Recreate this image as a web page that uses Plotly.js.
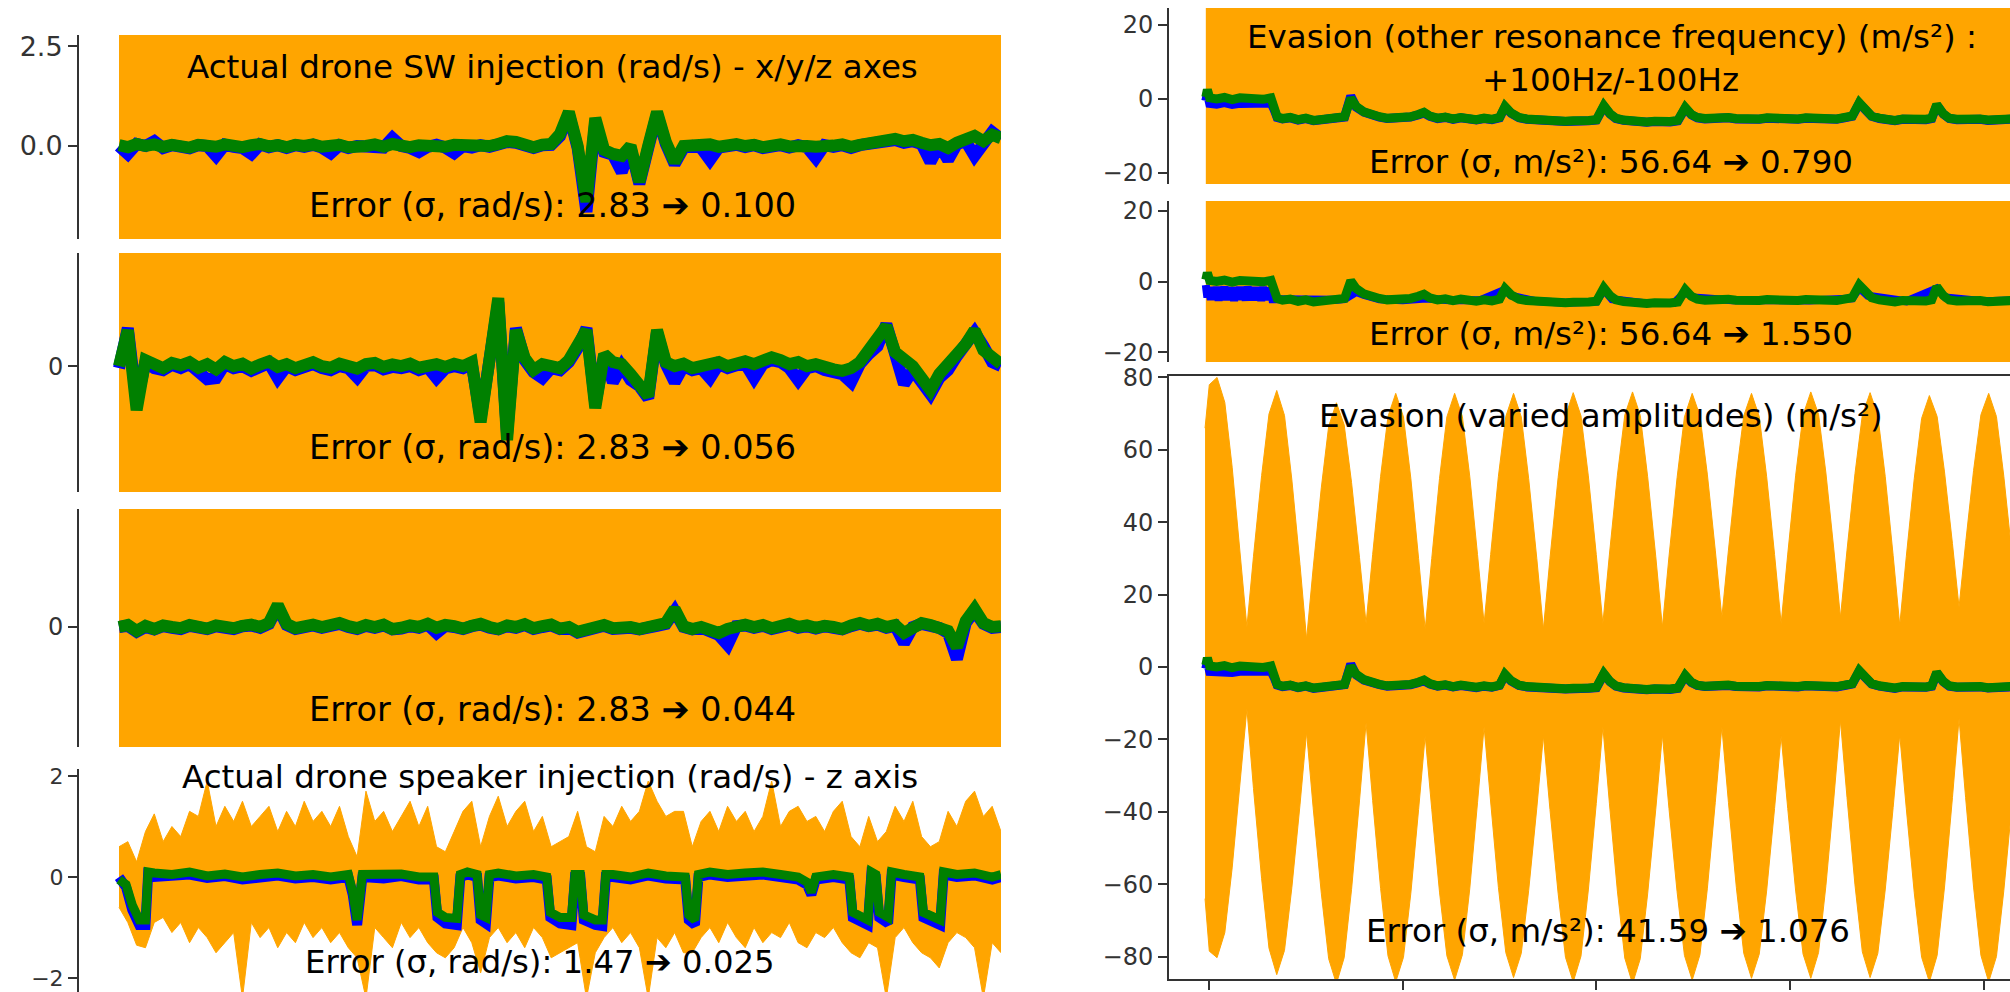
<!DOCTYPE html>
<html><head><meta charset="utf-8">
<script src="https://cdn.plot.ly/plotly-3.0.1.min.js"></script>
<style>html,body{margin:0;padding:0;background:#fff}#chart{width:2010px;height:992px}</style>
</head><body><div id="chart"></div>
<script>
// ---------- DATA ----------
// left column: sample index 0..100 (percent of the recording)
const swIndex = Array.from({length: 101}, (_, i) => i);

const swXGreen = [0.02,-0.03,0.05,0.00,0.04,-0.02,0.03,0.00,-0.04,0.03,
  0.01,-0.02,0.04,0.00,-0.03,0.02,0.05,-0.01,0.02,-0.03,
  0.03,0.00,0.04,-0.02,0.01,0.03,-0.03,0.02,0.00,0.04,
  -0.02,0.05,0.01,-0.03,0.02,0.00,0.04,-0.02,0.03,0.01,
  -0.02,0.03,0.00,0.05,0.12,0.10,0.02,-0.03,0.03,0.05,
  0.30,0.85,0.00,-1.40,0.70,-0.10,-0.20,-0.25,0.00,-0.90,
  0.00,0.85,0.10,-0.40,0.00,0.03,0.00,0.04,-0.02,0.02,
  0.05,0.00,0.03,-0.03,0.02,0.04,-0.01,0.03,0.00,-0.02,
  0.03,0.01,0.04,-0.02,0.03,0.06,0.10,0.14,0.18,0.12,
  0.15,0.08,0.02,0.05,-0.05,0.08,0.15,0.25,0.12,0.28,
  0.20];
const swXBlue = [0.0,-0.20,0.05,0.0,0.12,-0.05,0.02,0.0,-0.06,0.02,
  0.0,-0.25,0.03,-0.02,-0.05,-0.20,0.04,-0.03,0.02,-0.05,
  0.02,-0.02,0.03,-0.04,-0.18,0.02,-0.05,0.0,-0.02,0.03,
  -0.04,0.20,0.0,-0.05,-0.15,-0.02,0.03,-0.04,-0.18,0.0,
  -0.04,0.02,-0.02,0.04,0.10,0.08,0.0,-0.05,0.02,0.03,
  0.25,0.80,-0.05,-1.65,0.60,-0.15,-0.22,-0.65,-0.05,-0.95,
  -0.05,0.80,0.05,-0.45,-0.05,0.0,-0.05,-0.35,-0.04,0.0,
  0.03,-0.03,0.02,-0.05,0.0,0.02,-0.04,0.02,-0.03,-0.30,
  0.02,-0.02,0.02,-0.05,0.02,0.04,0.08,0.12,0.15,0.08,
  0.12,0.05,-0.40,0.03,-0.35,0.05,0.12,-0.25,0.10,0.35,
  0.18];

const swYGreen = [0.0,0.9,-1.1,0.15,0.05,-0.05,0.08,0.02,0.1,-0.04,
  0.05,-0.08,0.1,0.0,0.06,-0.06,0.04,0.12,-0.02,0.05,
  -0.05,0.04,0.1,0.0,-0.04,0.06,0.02,-0.06,0.05,0.08,
  -0.02,0.04,0.0,0.06,-0.04,0.03,0.05,-0.02,0.06,0.0,
  0.1,-1.4,0.4,1.7,-1.85,0.9,0.2,-0.1,0.05,0.0,
  -0.05,0.15,0.5,0.9,-1.05,0.3,0.1,0.05,-0.2,-0.45,
  -0.75,0.9,0.1,0.0,0.06,-0.05,0.02,0.05,0.1,0.0,
  0.08,0.12,0.05,0.1,0.22,0.15,0.05,0.1,0.0,0.05,
  -0.05,-0.08,-0.12,-0.05,0.1,0.4,0.6,1.0,0.35,0.2,
  0.0,-0.3,-0.6,-0.2,0.0,0.3,0.55,0.9,0.4,0.2,
  0.05];
const swYBlue = [-0.05,0.95,-0.9,0.1,-0.05,-0.1,0.03,-0.05,0.05,-0.1,
  -0.33,-0.3,0.05,-0.05,0.0,-0.12,-0.02,0.08,-0.3,0.0,
  -0.1,-0.02,0.05,-0.05,-0.1,0.0,-0.05,-0.28,0.0,0.03,
  -0.08,-0.02,-0.05,0.0,-0.1,-0.03,-0.3,-0.06,0.0,-0.05,
  0.05,-1.3,0.3,1.6,-1.7,0.95,0.15,-0.15,-0.3,-0.05,
  -0.1,0.1,0.45,0.95,-0.95,0.25,-0.4,0.0,-0.35,-0.5,
  -0.8,0.85,0.05,-0.4,0.0,-0.1,-0.05,-0.3,0.05,-0.05,
  0.02,0.06,-0.3,0.05,0.15,0.1,-0.05,-0.35,-0.05,0.0,
  -0.1,-0.15,-0.2,-0.4,0.05,0.3,0.5,1.05,0.3,-0.45,
  -0.1,-0.35,-0.7,-0.3,-0.1,0.25,0.5,0.85,0.5,0.1,
  0.0];

const swZGreen = [0.0,0.05,-0.1,0.03,-0.05,0.04,0.0,-0.03,0.05,0.0,
  -0.04,0.04,0.02,-0.03,0.03,0.06,0.0,0.1,0.55,0.08,
  -0.03,0.03,0.06,0.0,0.05,0.1,0.02,-0.03,0.05,0.0,
  0.06,-0.05,-0.02,0.04,0.0,0.08,-0.02,0.05,0.02,-0.04,
  0.03,0.08,0.0,-0.05,0.04,0.0,0.07,-0.03,0.02,0.06,
  -0.04,0.0,-0.12,-0.08,0.02,0.05,-0.03,0.02,0.0,-0.05,
  0.03,0.05,0.1,0.45,0.02,-0.05,0.0,-0.08,-0.15,-0.05,
  0.03,0.06,0.0,0.05,-0.03,0.02,0.08,0.0,0.04,-0.02,
  0.03,0.0,-0.05,0.04,0.1,0.03,0.08,0.0,0.05,-0.15,
  0.02,0.1,0.05,0.0,-0.1,-0.5,0.15,0.45,0.1,0.0,
  0.02];
const swZBlue = [0.0,0.03,-0.12,0.0,-0.06,0.02,-0.02,-0.05,0.03,-0.02,
  -0.05,0.02,0.0,-0.05,0.02,0.04,-0.02,0.08,0.5,0.05,
  -0.05,0.02,0.04,-0.02,0.03,0.08,0.0,-0.05,0.03,-0.02,
  0.04,-0.06,-0.04,0.02,-0.02,0.06,-0.15,0.03,0.0,-0.05,
  0.02,0.06,-0.02,-0.06,0.02,-0.02,0.05,-0.05,0.0,0.04,
  -0.05,-0.02,-0.14,-0.1,0.0,0.03,-0.05,0.0,-0.02,-0.06,
  0.02,0.03,0.08,0.4,0.0,-0.06,-0.02,-0.1,-0.2,-0.45,
  0.02,0.04,-0.02,0.03,-0.05,0.0,0.06,-0.02,0.02,-0.04,
  0.02,-0.02,-0.06,0.02,0.08,0.02,0.06,-0.02,0.03,-0.4,
  0.0,0.08,0.03,-0.02,-0.15,-0.8,0.1,0.4,0.08,-0.02,
  0.0];

// speaker injection: raw signal envelope (orange) on swIndex
const spkRawUpper = [0.6,0.7,0.3,0.9,1.25,0.7,1.0,0.8,1.3,1.2,
  1.9,1.0,1.4,1.1,1.5,1.0,1.2,1.4,0.9,1.3,
  1.0,1.5,1.1,1.3,1.0,1.4,0.8,0.4,1.7,1.1,
  1.3,0.9,1.2,1.5,1.0,1.4,0.6,0.5,0.9,1.3,
  1.5,0.6,1.2,1.6,1.0,1.3,1.5,0.9,1.2,0.6,
  0.7,0.8,1.3,0.6,0.5,1.2,1.0,1.4,1.1,1.3,
  1.9,1.5,1.2,1.3,1.3,0.6,1.1,1.3,0.9,1.4,
  1.1,1.3,0.9,1.2,1.9,1.0,1.3,1.4,1.1,1.2,
  0.9,1.3,1.5,0.8,0.6,1.2,0.7,0.9,1.4,1.1,
  1.5,0.8,0.6,0.7,1.3,1.0,1.5,1.7,1.2,1.4,
  0.9];
const spkRawLower = [-0.6,-0.9,-1.35,-1.4,-0.9,-0.8,-1.1,-0.9,-1.3,-1.0,
  -1.2,-1.5,-1.3,-1.1,-2.4,-0.9,-1.2,-1.0,-1.4,-1.1,
  -1.3,-0.9,-1.2,-1.0,-1.3,-1.1,-1.4,-1.6,-2.4,-1.0,
  -1.2,-1.4,-0.9,-1.2,-1.0,-1.3,-1.5,-1.6,-1.4,-1.0,
  -1.3,-1.9,-1.2,-1.0,-1.3,-1.1,-1.4,-1.0,-1.2,-1.6,
  -1.5,-1.4,-1.3,-2.4,-1.5,-1.2,-1.0,-1.3,-1.1,-1.4,
  -2.4,-1.2,-1.4,-1.1,-1.5,-1.5,-1.2,-1.0,-1.3,-0.9,
  -1.2,-1.4,-1.0,-1.3,-1.1,-1.2,-0.9,-1.3,-1.4,-1.1,
  -1.2,-1.0,-1.3,-1.5,-1.6,-1.3,-1.4,-2.4,-1.2,-1.0,
  -1.3,-1.5,-1.6,-1.8,-1.3,-1.1,-1.2,-1.4,-2.4,-1.3,
  -1.5];
const spkX = [0,0.8,1.5,2.3,3.0,3.3,4,6,8,10,
  12,14,16,18,20,22,24,26,26.5,27.0,
  27.6,28.5,30,32,34,35.7,36.1,37,38.3,38.7,
  39.5,40.6,41.0,41.6,42.0,43,45,47,48.5,48.9,
  50,51.3,51.7,52.3,52.7,54,54.8,55.2,56,58,
  60,62,64.2,64.6,65.3,65.7,67,69,71,73,
  75,77,78,78.5,79,81,82.8,83.2,84.9,85.3,
  85.8,86.2,87.2,87.6,89,90.8,91.2,93.1,93.5,95,
  97,99,100];
const spkGreen = [-0.05,-0.15,-0.55,-0.85,-0.85,0.1,0.08,0.05,0.1,0.02,
  0.06,0.0,0.05,0.08,0.02,0.05,0.0,0.05,-0.3,-0.85,
  0.05,0.05,0.02,0.06,0.0,0.0,-0.7,-0.8,-0.82,0.05,
  0.1,0.05,-0.75,-0.8,0.05,0.08,0.02,0.05,0.0,-0.7,
  -0.8,-0.8,0.05,0.05,-0.75,-0.85,-0.85,0.05,0.05,0.0,
  0.08,0.02,0.0,-0.75,-0.85,0.05,0.1,0.05,0.08,0.1,
  0.05,0.0,-0.1,-0.3,0.0,0.05,0.0,-0.7,-0.85,0.1,
  0.05,-0.7,-0.8,0.1,0.05,0.0,-0.7,-0.85,0.1,0.05,
  0.08,0.0,0.05];
const spkBlue = [0.0,-0.2,-0.65,-0.95,-0.95,0.05,0.0,0.02,0.05,-0.02,
  0.02,-0.05,0.0,0.03,-0.03,0.0,-0.05,0.0,-0.35,-0.95,
  0.0,-0.02,-0.03,0.02,-0.05,-0.05,-0.8,-0.92,-0.95,0.0,
  0.05,0.0,-0.85,-0.92,0.0,0.03,-0.03,0.0,-0.05,-0.8,
  -0.92,-0.95,0.0,0.0,-0.85,-0.95,-0.97,0.0,0.0,-0.05,
  0.03,-0.03,-0.05,-0.85,-0.95,0.0,0.05,0.0,0.03,0.05,
  0.0,-0.05,-0.15,-0.35,-0.05,0.0,-0.05,-0.8,-0.95,0.05,
  0.0,-0.8,-0.92,0.05,0.0,-0.05,-0.8,-0.95,0.05,0.0,
  0.03,-0.05,0.0];

// right column: evasion experiments (m/s^2)
const evX = [-0.8,-0.4,0.2,2,4,6,8,10,12,14,
  16,16.8,17.6,19,21,23,25,27,29,31,
  33,35,36.6,38,40,42,44,46,48,50,
  52,54,55.5,57,59,61,63,65,67,69,
  71,73,75,76.4,78,80,82,84,86,88,
  90,92,94,96,98,100,101.9,103.5,105,107,
  109,111,113,115,117,119,121,122.9,124.5,126,
  128,130,132,134,136,138,140,142,144,146,
  148,150,152,154,156,158,160,162,164,166,
  167.8,169.5,171,173,175,177,179,181,183,185,
  186.5,187.8,189.5,191,193,195,197,199,201,203,
  205,207];
const evGreen = [0.5,2.5,0.3,0.0,0.4,-0.2,0.3,0.0,0.2,-0.1,
  0.3,-2.5,-4.8,-5.3,-5.0,-5.6,-5.2,-5.8,-5.4,-5.6,
  -5.2,-4.8,0.2,-2.0,-3.5,-4.3,-4.8,-5.2,-5.0,-5.4,
  -4.8,-4.2,-3.6,-4.6,-5.2,-4.9,-5.4,-5.0,-5.3,-5.6,
  -5.2,-5.5,-5.0,-2.0,-3.8,-5.0,-5.4,-5.6,-5.3,-5.8,
  -5.6,-6.0,-5.9,-6.1,-5.8,-5.6,-1.8,-4.0,-5.2,-5.7,
  -6.0,-5.8,-6.2,-6.0,-6.3,-6.1,-5.8,-2.3,-4.2,-5.0,
  -5.3,-5.1,-5.4,-5.0,-5.3,-5.5,-5.2,-5.4,-5.1,-5.3,
  -5.5,-5.2,-5.4,-5.1,-5.3,-5.6,-5.2,-5.4,-5.0,-4.6,
  -1.0,-3.2,-4.6,-5.2,-5.5,-5.8,-5.4,-5.6,-5.8,-5.5,
  -5.2,-1.5,-4.0,-5.2,-5.5,-5.3,-5.6,-5.4,-5.7,-5.5,
  -5.6,-5.4];
const evBlueA = [-0.5,1.5,-1.2,-1.4,-1.0,-1.5,-1.2,-1.3,-1.0,-1.4,
  -1.1,-2.8,-5.0,-5.4,-5.1,-5.7,-5.3,-5.9,-5.5,-5.7,
  -5.3,-4.9,0.8,-2.2,-3.6,-4.4,-4.9,-5.3,-5.1,-5.5,
  -4.9,-4.3,-3.8,-4.7,-5.3,-5.0,-5.5,-5.1,-5.4,-5.7,
  -5.3,-5.6,-5.1,-2.2,-3.9,-5.1,-5.5,-5.7,-5.4,-5.9,
  -5.7,-6.1,-6.0,-6.2,-5.9,-5.7,-2.0,-4.1,-5.3,-5.8,
  -6.1,-5.9,-6.3,-6.1,-6.4,-6.2,-5.9,-2.5,-4.3,-5.1,
  -5.4,-5.2,-5.5,-5.1,-5.4,-5.6,-5.3,-5.5,-5.2,-5.4,
  -5.6,-5.3,-5.5,-5.2,-5.4,-5.7,-5.3,-5.5,-5.1,-4.7,
  -1.2,-3.3,-4.7,-5.3,-5.6,-5.9,-5.5,-5.7,-5.9,-5.6,
  -5.3,-1.7,-4.1,-5.3,-5.6,-5.4,-5.7,-5.5,-5.8,-5.6,
  -5.7,-5.5];
const evBlueBX = [-0.8,-0.4,0.0,0.5,1.0,1.5,2.0,2.5,3.0,3.5,
  4.0,4.5,5.0,5.5,6.0,6.5,7.0,7.5,8.0,8.5,
  9.0,9.5,10.0,10.5,11.0,11.5,12.0,12.5,13.0,13.5,
  14.0,14.5,15.0,15.5,16.0,16.4,17.6,21,25,29,
  33,35,36.6,38,40,44,50,56,62,70,
  76.4,78,84,92,100,101.9,104,112,120,122.9,
  125,135,145,155,166,167.8,170,180,187.8,190,
  200,207];
const evBlueB = [-1.0,-4.5,-1.6,-5.2,-1.8,-5.0,-1.5,-5.4,-2.2,-4.8,
  -1.4,-5.3,-1.9,-5.0,-1.6,-5.5,-2.0,-4.9,-1.5,-5.2,
  -1.8,-5.4,-1.4,-5.0,-2.1,-5.3,-1.6,-4.9,-1.8,-5.5,
  -1.5,-5.1,-2.0,-5.3,-1.7,-5.0,-5.0,-5.1,-5.3,-5.5,
  -5.2,-5.0,-3.8,-3.0,-3.8,-5.0,-5.3,-4.8,-5.3,-5.3,
  -2.3,-4.0,-5.5,-6.0,-5.7,-2.3,-5.0,-6.1,-6.1,-3.0,
  -4.5,-5.3,-5.3,-5.4,-4.8,-1.8,-4.0,-5.6,-2.0,-4.5,
  -5.6,-5.4];

// varied-amplitude raw signal envelope (one row per lobe)
const ampEnvX = [-1.0,0.1,2.1,4.1,6.0,8.1,9.8,
  11.5,13.6,15.5,17.5,19.5,21.4,23.5,25.2,
  26.9,29.0,30.9,32.9,34.9,36.8,38.85,40.55,
  42.25,44.3,46.2,48.2,50.2,52.1,54.1,55.8,
  57.5,59.5,61.4,63.4,65.4,67.3,69.3,71.0,
  72.7,74.7,76.6,78.6,80.6,82.5,84.6,86.3,
  88.0,90.1,92.0,94.0,96.0,97.9,99.95,101.65,
  103.35,105.4,107.3,109.3,111.3,113.2,115.3,117.0,
  118.7,120.8,122.7,124.7,126.7,128.6,130.65,132.35,
  134.05,136.1,138.0,140.0,142.0,143.9,145.95,147.65,
  149.35,151.4,153.3,155.3,157.3,159.2,161.25,162.95,
  164.65,166.7,168.6,170.6,172.6,174.5,176.55,178.25,
  179.95,182.0,183.9,185.9,187.9,189.8,191.85,193.55,
  195.25,197.3,199.2,201.2,203.2,205.1,207.2];
const ampEnvUpper = [66,78,80,73.1,55.2,31.7,11,
  30.6,52.9,69.9,76.4,69.5,51.7,28.3,7.7,
  27.3,49.5,66.5,73,66.9,51,30.3,12,
  31.1,52.7,69.2,75.6,69.1,52.1,30,10.4,
  30,52.1,69.1,75.6,69.2,52.7,31.1,12,
  31.1,52.7,69.2,75.6,69.1,52.1,30,10.4,
  30,52.3,69.3,75.8,69.4,52.8,31.1,12,
  31.2,53,69.6,76,69.5,52.6,30.5,11,
  30.4,52.3,69.1,75.6,69.4,53.3,32.3,13.7,
  32.3,53.3,69.4,75.6,69.2,52.7,31.1,12,
  31.2,53,69.6,76,69.8,53.6,32.4,13.7,
  32.3,53.4,69.6,75.8,69.4,52.7,30.8,11.5,
  30.6,52.1,68.7,75,69.2,53.9,34.1,16.5,
  34.2,54.3,69.7,75.6,69.2,52.7,31.1];
const ampEnvLower = [-64,-78.5,-80.3,-73.4,-55.5,-32.1,-11.5,
  -33.6,-58.5,-77.7,-85,-78.3,-60.9,-38.1,-18,
  -38.9,-62.5,-80.6,-87.5,-80.3,-61.5,-37,-15.4,
  -36.9,-61.2,-79.8,-87,-80.2,-62.5,-39.4,-19,
  -39.3,-62.2,-79.8,-86.5,-79.5,-61.3,-37.5,-16.5,
  -37.3,-60.9,-78.9,-85.8,-79.1,-61.8,-39,-19,
  -39.4,-62.5,-80.2,-87,-79.9,-61.6,-37.7,-16.5,
  -37.8,-61.9,-80.4,-87.5,-80.6,-62.7,-39.3,-18.7,
  -39,-62.1,-79.7,-86.5,-79.5,-61.3,-37.5,-16.5,
  -37.4,-61,-79.1,-86,-79.3,-61.9,-39.1,-19,
  -39.1,-61.9,-79.3,-86,-78.9,-60.4,-36.2,-14.8,
  -36.1,-60.2,-78.7,-85.8,-79.1,-61.6,-38.8,-18.7,
  -39.2,-62.4,-80.2,-87,-79.7,-60.8,-36.1,-14.3,
  -36.1,-60.8,-79.7,-87,-80,-61.8,-38];

// tick labels
const tickSW1Vals = [0, 2.5], tickSW1Text = ['0.0', '2.5'];
const tickZeroVals = [0], tickZeroText = ['0'];
const tickSpkVals = [-2, 0, 2], tickSpkText = ['\u22122', '0', '2'];
const tickEv20Vals = [-20, 0, 20], tickEv20Text = ['\u221220', '0', '20'];
const tickAmpVals = [-80, -60, -40, -20, 0, 20, 40, 60, 80];
const tickAmpText = ['\u221280', '\u221260', '\u221240', '\u221220', '0', '20', '40', '60', '80'];
const tickTimeVals = [0, 50, 100, 150, 200];

// texts
const panelTitles = ['Actual drone SW injection (rad/s) - x/y/z axes',
  'Actual drone speaker injection (rad/s) - z axis',
  'Evasion (other resonance frequency) (m/s\u00B2) :',
  '+100Hz/-100Hz',
  'Evasion (varied amplitudes) (m/s\u00B2)'];
const errorTexts = ['Error (\u03C3, rad/s): 2.83 \u2794 0.100',
  'Error (\u03C3, rad/s): 2.83 \u2794 0.056',
  'Error (\u03C3, rad/s): 2.83 \u2794 0.044',
  'Error (\u03C3, rad/s): 1.47 \u2794 0.025',
  'Error (\u03C3, m/s\u00B2): 56.64 \u2794 0.790',
  'Error (\u03C3, m/s\u00B2): 56.64 \u2794 1.550',
  'Error (\u03C3, m/s\u00B2): 41.59 \u2794 1.076'];

// ---------- STYLE ----------
const ORANGE = '#FFA500', BLUE = '#0000FF', GREEN = '#008000';
const AX = '#333333';
const tickFont = {family: 'DejaVu Sans', size: 24, color: '#333333'};
const tickFontBig = {family: 'DejaVu Sans', size: 27, color: '#333333'};
const tickFontSmall = {family: 'DejaVu Sans', size: 22, color: '#333333'};
const titleFont = {family: 'DejaVu Sans', size: 32.5, color: '#000000'};
const errLFont = {family: 'DejaVu Sans', size: 33.5, color: '#000000'};
const errSFont = {family: 'DejaVu Sans', size: 32.3, color: '#000000'};
const errRFont = {family: 'DejaVu Sans', size: 32.5, color: '#000000'};

function ln(x, y, xa, ya, color, width) {
  return {x: x, y: y, xaxis: xa, yaxis: ya, type: 'scatter', mode: 'lines',
    line: {color: color, width: width}, hoverinfo: 'skip'};
}
function band(x, lo, hi, xa, ya) {
  return [
    {x: x, y: lo, xaxis: xa, yaxis: ya, type: 'scatter', mode: 'lines',
      line: {color: ORANGE, width: 1}, hoverinfo: 'skip'},
    {x: x, y: hi, xaxis: xa, yaxis: ya, type: 'scatter', mode: 'lines',
      line: {color: ORANGE, width: 1}, fill: 'tonexty', fillcolor: ORANGE, hoverinfo: 'skip'}
  ];
}

const traces = [
  ln(swIndex, swXBlue, 'x', 'y', BLUE, 12), ln(swIndex, swXGreen, 'x', 'y', GREEN, 12),
  ln(swIndex, swYBlue, 'x2', 'y2', BLUE, 12), ln(swIndex, swYGreen, 'x2', 'y2', GREEN, 12),
  ln(swIndex, swZBlue, 'x3', 'y3', BLUE, 12), ln(swIndex, swZGreen, 'x3', 'y3', GREEN, 12),
  ...band(swIndex, spkRawLower, spkRawUpper, 'x4', 'y4'),
  ln(spkX, spkBlue, 'x4', 'y4', BLUE, 10), ln(spkX, spkGreen, 'x4', 'y4', GREEN, 9),
  ln(evX, evBlueA, 'x5', 'y5', BLUE, 9), ln(evX, evGreen, 'x5', 'y5', GREEN, 9),
  ln(evBlueBX, evBlueB, 'x6', 'y6', BLUE, 8), ln(evX, evGreen, 'x6', 'y6', GREEN, 9),
  ...band(ampEnvX, ampEnvLower, ampEnvUpper, 'x7', 'y7'),
  ln(evX, evBlueA, 'x7', 'y7', BLUE, 9), ln(evX, evGreen, 'x7', 'y7', GREEN, 9)
];

const leftDom = [79 / 2010, 1001 / 2010];
const rightDom = [1169 / 2010, 1];
function hx(anchor, dom, range) {
  return {domain: dom, range: range, anchor: anchor, visible: false, fixedrange: true};
}
function vy(anchor, dom, range, tv, tt, font) {
  return {domain: dom, range: range, anchor: anchor, showline: true, linecolor: AX, linewidth: 2,
    ticks: 'outside', ticklen: 9, tickwidth: 2, tickcolor: AX, tickvals: tv, ticktext: tt,
    tickfont: font || tickFont, showgrid: false, zeroline: false, fixedrange: true,
    ticklabeloverflow: 'allow'};
}
function py(px) { return 1 - px / 992; }

const layout = {
  width: 2010, height: 992, margin: {l: 0, r: 0, t: 0, b: 0},
  paper_bgcolor: '#ffffff', plot_bgcolor: '#ffffff', showlegend: false,
  xaxis: hx('y', leftDom, [-4.535, 100]),
  xaxis2: hx('y2', leftDom, [-4.535, 100]),
  xaxis3: hx('y3', leftDom, [-4.535, 100]),
  xaxis4: hx('y4', leftDom, [-4.535, 100]),
  xaxis5: hx('y5', rightDom, [-10.3, 206.7]),
  xaxis6: hx('y6', rightDom, [-10.3, 206.7]),
  xaxis7: {domain: rightDom, range: [-10.3, 206.7], anchor: 'y7', showline: true, mirror: true,
    linecolor: AX, linewidth: 2, ticks: 'outside', ticklen: 9, tickwidth: 2, tickcolor: AX,
    tickvals: tickTimeVals, showticklabels: false, showgrid: false, zeroline: false, fixedrange: true},
  yaxis: vy('x', [py(239), py(35)], [-2.33, 2.78], tickSW1Vals, tickSW1Text, tickFontBig),
  yaxis2: vy('x2', [py(492), py(253)], [-3.15, 2.83], tickZeroVals, tickZeroText),
  yaxis3: vy('x3', [py(747), py(509)], [-3.0, 2.95], tickZeroVals, tickZeroText),
  yaxis4: vy('x4', [0, py(769)], [-2.277, 2.139], tickSpkVals, tickSpkText, tickFontSmall),
  yaxis5: vy('x5', [py(184), py(8)], [-23.0, 24.6], tickEv20Vals, tickEv20Text),
  yaxis6: vy('x6', [py(362), py(201)], [-22.8, 22.8], tickEv20Vals, tickEv20Text),
  yaxis7: vy('x7', [py(979), py(376)], [-86.2, 80.4], tickAmpVals, tickAmpText),
  shapes: [
    ['x', 'y', swIndex], ['x2', 'y2', swIndex], ['x3', 'y3', swIndex],
    ['x5', 'y5', evX], ['x6', 'y6', evX]
  ].map(s => ({type: 'rect', xref: s[0], yref: s[1] + ' domain', x0: s[2][0], x1: s[2][s[2].length - 1],
    y0: 0, y1: 1, fillcolor: ORANGE, line: {width: 0}, layer: 'below'})),
  annotations: [
    [panelTitles[0], 552, 67, titleFont], [errorTexts[0], 552, 206, errLFont],
    [errorTexts[1], 552, 447, errLFont], [errorTexts[2], 552, 709, errLFont],
    [panelTitles[1], 550, 777, titleFont], [errorTexts[3], 540, 962, errSFont],
    [panelTitles[2], 1612, 37, titleFont], [panelTitles[3], 1610, 80, titleFont],
    [errorTexts[4], 1611, 162, errRFont], [errorTexts[5], 1611, 334, errRFont],
    [panelTitles[4], 1601, 416, titleFont], [errorTexts[6], 1608, 931, errRFont]
  ].map(a => ({text: a[0], x: a[1] / 2010, y: py(a[2]), xref: 'paper', yref: 'paper',
    xanchor: 'center', yanchor: 'middle', showarrow: false, font: a[3]}))
};

Plotly.newPlot('chart', traces, layout, {staticPlot: true, displayModeBar: false});
</script></body></html>
